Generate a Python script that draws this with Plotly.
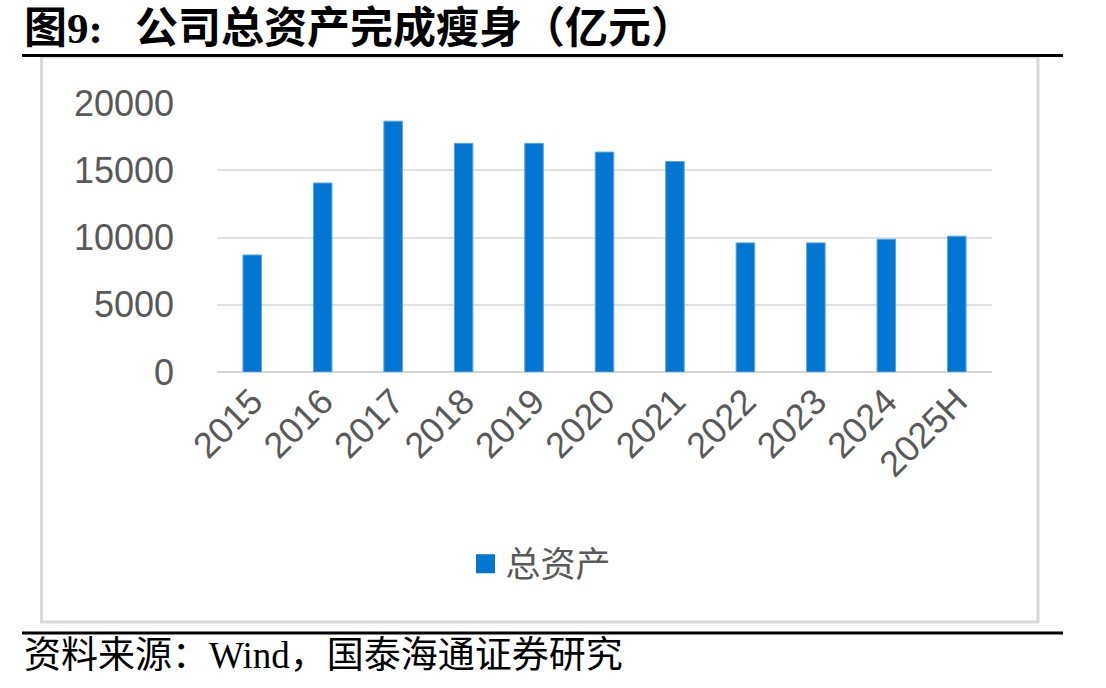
import plotly.graph_objects as go

categories = ["2015", "2016", "2017", "2018", "2019", "2020", "2021", "2022", "2023", "2024", "2025H"]
total_assets = [8700, 14050, 18650, 17000, 17000, 16350, 15650, 9600, 9600, 9870, 10100]
y_ticks = [0, 5000, 10000, 15000, 20000]
y_tick_labels = ["0", "5000", "10000", "15000", "20000"]
series_name = "总资产"
title_text = "图9:\u00a0\u00a0\u00a0公司总资产完成瘦身（亿元）"
source_text = "资料来源：Wind，国泰海通证券研究"

W, H = 1106, 688
L, R, T, B = 217, 114, 103, 316
PW = W - L - R
PH = H - T - B


def px(x):
    return (x - L) / PW


def py(y):
    return (H - B - y) / PH


BLUE = "#0176D2"
GREY = "#595959"
TICK_FONT = dict(family="Liberation Sans, Arial, sans-serif", size=36, color=GREY)

fig = go.Figure()
fig.add_trace(go.Bar(
    x=categories, y=total_assets, name=series_name,
    marker=dict(color=BLUE, line=dict(color="#5AA5E3", width=1)),
    showlegend=False,
))
# legend proxy (square marker like the reference)
fig.add_trace(go.Scatter(
    x=[None], y=[None], mode="markers", name=series_name,
    marker=dict(symbol="square", size=16, color=BLUE, line=dict(color=BLUE, width=3)),
))

fig.update_layout(
    width=W, height=H,
    margin=dict(l=L, r=R, t=T, b=B, autoexpand=False),
    paper_bgcolor="white", plot_bgcolor="white",
    bargap=0.737,
    showlegend=True,
    legend=dict(
        orientation="h", x=px(541), xanchor="center", y=py(564), yanchor="middle",
        font=dict(family="Noto Sans CJK SC", size=35, color=GREY),
        itemwidth=30, bgcolor="rgba(0,0,0,0)",
    ),
    xaxis=dict(
        type="category", tickangle=-45, tickfont=TICK_FONT,
        showgrid=False, showline=False, ticks="", zeroline=False,
    ),
    yaxis=dict(
        range=[0, 20000], tickvals=y_ticks, ticktext=y_tick_labels, tickfont=TICK_FONT,
        showgrid=True, gridcolor="#E0E0E0", gridwidth=2,
        zeroline=True, zerolinecolor="#D4D4D4", zerolinewidth=2,
        showline=False, ticks="", ticklabelstandoff=42,
    ),
)

shapes = [
    # chart box
    dict(type="rect", xref="paper", yref="paper", x0=px(41.5), x1=px(1038), y0=py(622), y1=py(57),
         line=dict(color="#D9D9D9", width=3), fillcolor="rgba(0,0,0,0)", layer="below"),
    # title underline
    dict(type="line", xref="paper", yref="paper", x0=px(22), x1=px(1063), y0=py(55.5), y1=py(55.5),
         line=dict(color="black", width=3)),
    # source line
    dict(type="line", xref="paper", yref="paper", x0=px(22), x1=px(1063), y0=py(633), y1=py(633),
         line=dict(color="black", width=3)),
]
fig.update_layout(shapes=shapes)

fig.add_annotation(
    text="<b>" + title_text + "</b>", xref="paper", yref="paper",
    x=px(22), y=py(28), xanchor="left", yanchor="middle", showarrow=False,
    font=dict(family="Liberation Serif, Noto Sans CJK SC", size=43, color="black"),
)
fig.add_annotation(
    text=source_text, xref="paper", yref="paper",
    x=px(22), y=py(655), xanchor="left", yanchor="middle", showarrow=False,
    font=dict(family="Liberation Serif, Noto Sans CJK SC", size=37, color="black"),
)

fig.write_html("out.html")
